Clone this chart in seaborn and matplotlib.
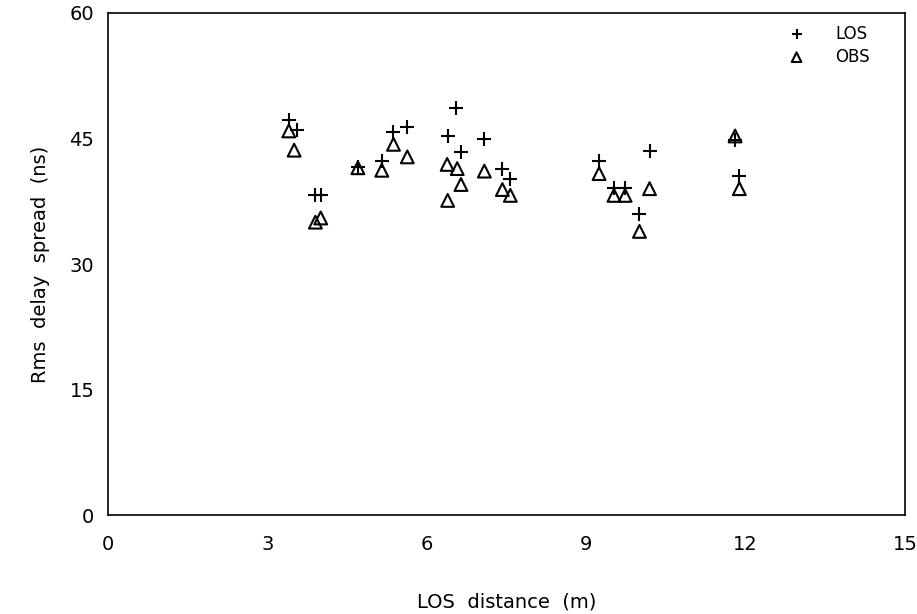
import matplotlib
matplotlib.use("Agg")
import matplotlib.pyplot as plt
import seaborn as sns
import pandas as pd

los_x = [3.40, 3.55, 3.90, 4.00, 4.70, 5.15, 5.37, 5.63, 6.39, 6.55, 6.64, 7.08, 7.42, 7.57,
         9.24, 9.52, 9.73, 10.00, 10.19, 11.80, 11.88]
los_y = [47.2, 46.0, 38.2, 38.2, 41.6, 42.3, 45.8, 46.4, 45.3, 48.6, 43.4, 44.9, 41.3, 40.1,
         42.3, 39.1, 39.1, 36.0, 43.5, 44.8, 40.5]
obs_x = [3.40, 3.50, 3.90, 4.00, 4.70, 5.15, 5.37, 5.63, 6.38, 6.39, 6.57, 6.64, 7.08, 7.42,
         7.57, 9.24, 9.52, 9.73, 10.00, 10.19, 11.80, 11.88]
obs_y = [45.9, 43.6, 35.0, 35.5, 41.5, 41.2, 44.3, 42.8, 41.9, 37.6, 41.4, 39.5, 41.1, 38.9,
         38.2, 40.8, 38.2, 38.2, 33.9, 39.0, 45.3, 39.0]

x_ticks = [0, 3, 6, 9, 12, 15]
y_ticks = [0, 15, 30, 45, 60]

sns.set_theme(style="white")
plt.rcParams['font.family'] = ['DejaVu Sans']
plt.rcParams['text.color'] = 'black'
plt.rcParams['axes.labelcolor'] = 'black'

los = pd.DataFrame({"x": los_x, "y": los_y})
obs = pd.DataFrame({"x": obs_x, "y": obs_y})

fig = plt.figure(figsize=(9.17, 6.14), dpi=100)
ax = fig.add_axes([0.118, 0.161, 0.869, 0.818])

sns.scatterplot(data=los, x="x", y="y", marker="+", s=95, color="black",
                linewidth=1.5, ax=ax, label="LOS")
sns.scatterplot(data=obs, x="x", y="y", marker="^", s=85, facecolors="none",
                edgecolor="black", linewidth=1.5, ax=ax, label="OBS")

ax.set_xlim(0, 15)
ax.set_ylim(0, 60)
ax.set_xticks(x_ticks)
ax.set_yticks(y_ticks)
ax.tick_params(direction="in", length=7, width=1.2, colors="black", labelsize=14, pad=14)
ax.tick_params(axis="y", pad=10)
for sp in ax.spines.values():
    sp.set_color("black")
    sp.set_linewidth(1.2)
ax.set_xlabel("LOS  distance  (m)", fontsize=14, labelpad=28)
ax.set_ylabel("Rms  delay  spread  (ns)", fontsize=14, labelpad=14)

leg = ax.legend(loc="upper right", bbox_to_anchor=(0.97, 1.0), frameon=False, fontsize=12,
                handletextpad=1.3, borderaxespad=0.3, labelspacing=0.3, markerscale=0.75)

fig.savefig("out.png", dpi=100)
